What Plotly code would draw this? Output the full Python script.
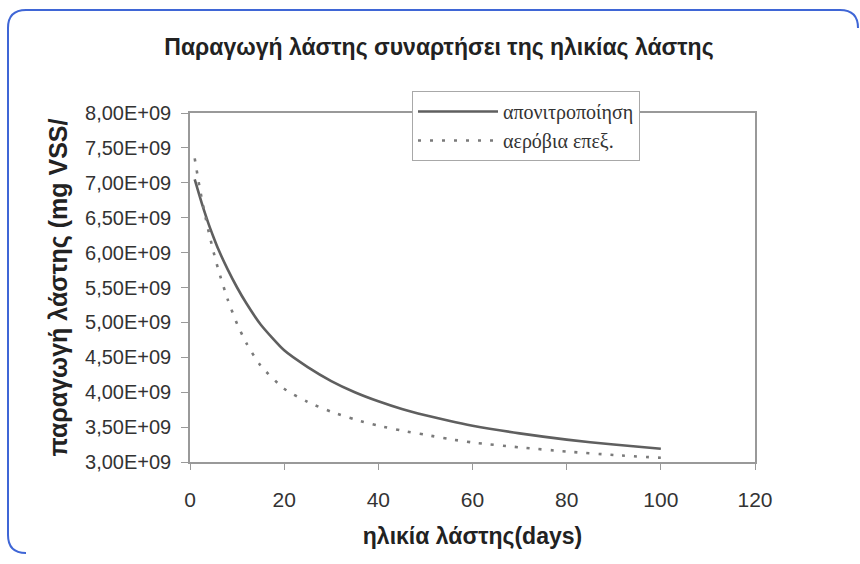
import plotly.graph_objects as go

# Sludge age (days)
days = [1, 2, 3, 4, 5, 6, 8, 10, 12, 15, 20, 25, 30, 35, 40, 45, 50, 55, 60, 70, 80, 90, 100]

# Sludge production (mg VSS) - denitrification
denitrification = [7.05e9, 6.82e9, 6.60e9, 6.40e9, 6.22e9, 6.05e9, 5.76e9, 5.50e9, 5.27e9,
                   4.97e9, 4.60e9, 4.36e9, 4.16e9, 4.00e9, 3.87e9, 3.76e9, 3.67e9, 3.59e9,
                   3.52e9, 3.41e9, 3.32e9, 3.25e9, 3.19e9]

# Sludge production (mg VSS) - aerobic treatment
aerobic = [7.35e9, 6.95e9, 6.60e9, 6.29e9, 6.01e9, 5.76e9, 5.33e9, 4.98e9, 4.70e9,
           4.38e9, 4.05e9, 3.86e9, 3.72e9, 3.61e9, 3.52e9, 3.45e9, 3.39e9, 3.33e9,
           3.28e9, 3.21e9, 3.15e9, 3.10e9, 3.06e9]

series_names = ["απονιτροποίηση", "αερόβια επεξ."]

y_tickvals = [3.0e9, 3.5e9, 4.0e9, 4.5e9, 5.0e9, 5.5e9, 6.0e9, 6.5e9, 7.0e9, 7.5e9, 8.0e9]
y_ticktext = ["3,00E+09", "3,50E+09", "4,00E+09", "4,50E+09", "5,00E+09", "5,50E+09",
              "6,00E+09", "6,50E+09", "7,00E+09", "7,50E+09", "8,00E+09"]
x_tickvals = [0, 20, 40, 60, 80, 100, 120]

title_text = "Παραγωγή λάστης συναρτήσει της ηλικίας λάστης"
x_title = "ηλικία λάστης(days)"
y_title = "παραγωγή λάστης (mg VSS/"

# page geometry (pixels)
FIG_W, FIG_H = 860, 564
PLOT_L, PLOT_R, PLOT_T, PLOT_B = 190, 755, 113, 462
PW, PH = PLOT_R - PLOT_L, PLOT_B - PLOT_T


def px_x(p):
    return (p - PLOT_L) / PW


def px_y(p):
    return (PLOT_B - p) / PH


fig = go.Figure()
fig.add_trace(go.Scatter(
    x=days, y=denitrification, name=series_names[0], mode="lines",
    line=dict(color="#5f5f5f", width=2.6, shape="spline", smoothing=0.6),
))
fig.add_trace(go.Scatter(
    x=days, y=aerobic, name=series_names[1], mode="lines",
    line=dict(color="#7a7a7a", width=2.6, dash="3px,9px", shape="spline", smoothing=0.6),
))

# rounded outer frame: left and top edges with their corners
x0, x1 = px_x(8), px_x(858)
y0, y1 = px_y(553), px_y(10)
rx, ry = 18 / PW, 18 / PH
frame = (f"M {x0 + rx},{y0} Q {x0},{y0} {x0},{y0 + ry} "
         f"L {x0},{y1 - ry} Q {x0},{y1} {x0 + rx},{y1} "
         f"L {x1 - rx},{y1} Q {x1},{y1} {x1},{y1 - ry}")
fig.add_shape(type="path", path=frame, xref="paper", yref="paper",
              line=dict(color="#3f66d6", width=2), layer="below")

fig.update_layout(
    width=FIG_W, height=FIG_H,
    margin=dict(l=PLOT_L, r=FIG_W - PLOT_R, t=PLOT_T, b=FIG_H - PLOT_B, pad=0),
    paper_bgcolor="white", plot_bgcolor="white",
    font=dict(family="Liberation Sans, Arial, sans-serif", color="#333333"),
    title=dict(text=f"<b>{title_text}</b>", x=439 / FIG_W, xref="container", xanchor="center",
               y=1 - 47 / FIG_H, yanchor="middle",
               font=dict(size=23, color="#222222")),
    showlegend=True,
    legend=dict(
        x=px_x(412), y=px_y(91), xanchor="left", yanchor="top",
        bgcolor="white", bordercolor="#a8a8a8", borderwidth=1,
        font=dict(family="Liberation Serif, DejaVu Serif, serif", size=20, color="#333333"),
        itemwidth=80, tracegroupgap=0,
    ),
    xaxis=dict(
        range=[0, 120], tickvals=x_tickvals, ticks="outside", ticklen=6,
        tickcolor="#999999", showgrid=False, zeroline=False,
        showline=True, linecolor="#999999", linewidth=1.5, mirror=True,
        tickfont=dict(size=21, color="#333333"), ticklabelstandoff=12,
        title=dict(text=f"<b>{x_title}</b>", font=dict(size=23, color="#222222"), standoff=18),
    ),
    yaxis=dict(
        range=[3.0e9, 8.0e9], tickvals=y_tickvals, ticktext=y_ticktext,
        ticks="outside", ticklen=7, tickcolor="#999999", showgrid=False, zeroline=False,
        showline=True, linecolor="#999999", linewidth=1.5, mirror=True,
        tickfont=dict(size=20, color="#333333"), ticklabelstandoff=6,
        title=dict(text=f"<b>{y_title}</b>", font=dict(size=25, color="#222222"), standoff=10),
    ),
)

fig.write_html("out.html")
